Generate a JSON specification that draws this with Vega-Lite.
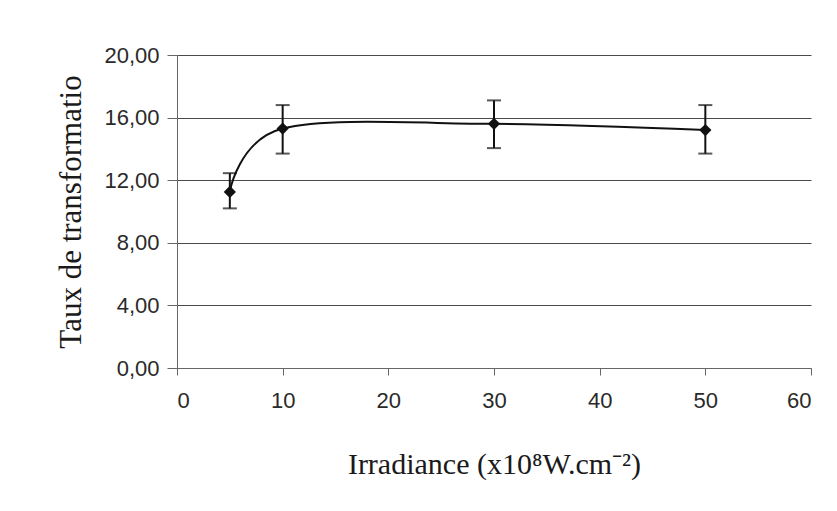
{
  "$schema": "https://vega.github.io/schema/vega-lite/v6.json",
  "width": 634,
  "height": 313,
  "autosize": {"type": "none"},
  "padding": {"left": 177, "top": 55, "right": 26, "bottom": 143},
  "background": "white",
  "config": {
    "view": {"stroke": null},
    "axis": {
      "labelFont": "Liberation Sans",
      "labelFontSize": 22,
      "labelColor": "#2a2a2a",
      "titleFont": "Liberation Serif",
      "titleFontWeight": "normal",
      "titleColor": "#1a1a1a",
      "domainColor": "#666666",
      "tickColor": "#666666",
      "gridColor": "#4a4a4a",
      "gridWidth": 1.2
    }
  },
  "data": {
    "values": [
      {"irradiance": 5, "taux": 11.25, "lo": 10.2, "hi": 12.45},
      {"irradiance": 10, "taux": 15.3, "lo": 13.7, "hi": 16.8},
      {"irradiance": 30, "taux": 15.6, "lo": 14.05, "hi": 17.1},
      {"irradiance": 50, "taux": 15.2, "lo": 13.7, "hi": 16.8}
    ]
  },
  "encoding": {
    "x": {
      "field": "irradiance",
      "type": "quantitative",
      "scale": {"domain": [0, 60], "nice": false},
      "axis": {
        "values": [0, 10, 20, 30, 40, 50, 60],
        "grid": false,
        "tickSize": 7,
        "labelPadding": 15,
        "title": "Irradiance (x10⁸W.cm⁻²)",
        "titleFontSize": 30,
        "titlePadding": 38
      }
    }
  },
  "layer": [
    {
      "mark": {"type": "errorbar", "ticks": {"size": 14, "thickness": 2, "color": "#111111"}, "rule": {"strokeWidth": 2, "color": "#111111"}},
      "encoding": {
        "y": {
          "field": "lo",
          "type": "quantitative",
          "scale": {"domain": [0, 20], "nice": false},
          "axis": {
            "values": [0, 4, 8, 12, 16, 20],
            "grid": true,
            "tickSize": 10,
            "labelPadding": 8,
            "labelExpr": "replace(format(datum.value, '.2f'), '.', ',')",
            "title": "Taux de transformatio",
            "titleFontSize": 31,
            "titlePadding": 16
          }
        },
        "y2": {"field": "hi"}
      }
    },
    {
      "mark": {"type": "line", "interpolate": "cardinal", "color": "#111111", "strokeWidth": 2},
      "encoding": {"y": {"field": "taux", "type": "quantitative"}}
    },
    {
      "mark": {"type": "point", "shape": "diamond", "filled": true, "size": 150, "color": "#111111", "opacity": 1},
      "encoding": {"y": {"field": "taux", "type": "quantitative"}}
    }
  ]
}
